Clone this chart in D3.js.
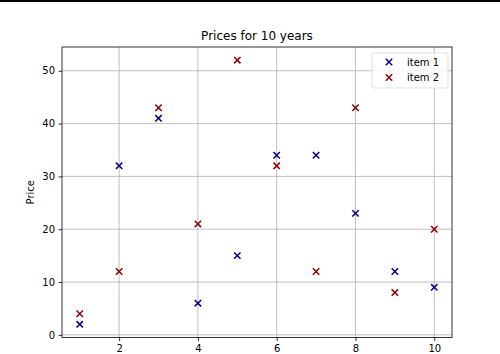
<!DOCTYPE html>
<html>
<head>
<meta charset="utf-8">
<script src="https://cdn.jsdelivr.net/npm/d3@7"></script>
<style>
body { margin: 0; background: #fff; }
svg { display: block; font-family: "DejaVu Sans", sans-serif; }
</style>
</head>
<body>
<svg id="chart" width="500" height="354"></svg>
<script>
// data
var years = [1, 2, 3, 4, 5, 6, 7, 8, 9, 10];
var item1 = [2, 32, 41, 6, 15, 34, 34, 23, 12, 9];
var item2 = [4, 12, 43, 21, 52, 32, 12, 43, 8, 20];
var xTicks = [2, 4, 6, 8, 10];
var yTicks = [0, 10, 20, 30, 40, 50];
var seriesNames = ["item 1", "item 2"];
var seriesColors = ["#00008b", "#8b0000"];

var svg = d3.select("#chart");
// plot area (don't call it "top", that's window.top)
var pLeft = 62, pRight = 452, pTop = 47, pBottom = 337.5;

// black strip across the top of the picture
svg.append("rect").attr("x", 0).attr("y", 0).attr("width", 500).attr("height", 2).attr("fill", "#000");

var x = d3.scaleLinear().domain([0.55, 10.45]).range([pLeft, pRight]);
var y = d3.scaleLinear().domain([-0.5, 54.5]).range([pBottom, pTop]);

// grid
var grid = svg.append("g").attr("stroke", "#b0b0b0").attr("stroke-width", 0.8);
xTicks.forEach(function (t) {
	grid.append("line").attr("x1", x(t)).attr("x2", x(t)).attr("y1", pTop).attr("y2", pBottom);
});
yTicks.forEach(function (t) {
	grid.append("line").attr("x1", pLeft).attr("x2", pRight).attr("y1", y(t)).attr("y2", y(t));
});

// axes
var xAxis = svg.append("g").attr("transform", "translate(0," + pBottom + ")")
	.call(d3.axisBottom(x).tickValues(xTicks).tickSize(3.5).tickPadding(3.5).tickSizeOuter(0));
var yAxis = svg.append("g").attr("transform", "translate(" + pLeft + ",0)")
	.call(d3.axisLeft(y).tickValues(yTicks).tickSize(3.5).tickPadding(3.5).tickSizeOuter(0));
[xAxis, yAxis].forEach(function (a) {
	a.select(".domain").remove();
	a.selectAll("text").attr("font-size", 10).attr("fill", "#000").attr("font-family", "DejaVu Sans");
	a.selectAll("line").attr("stroke", "#000").attr("stroke-width", 0.8);
});

// frame
svg.append("rect").attr("x", pLeft).attr("y", pTop).attr("width", pRight - pLeft).attr("height", pBottom - pTop)
	.attr("fill", "none").attr("stroke", "#000").attr("stroke-width", 0.8);

// markers
function cross(g, cx, cy, color) {
	var s = 3.2;
	g.append("path")
		.attr("d", "M" + (cx - s) + "," + (cy - s) + "L" + (cx + s) + "," + (cy + s) +
			"M" + (cx - s) + "," + (cy + s) + "L" + (cx + s) + "," + (cy - s))
		.attr("stroke", color).attr("stroke-width", 1.5).attr("fill", "none");
}
var marks = svg.append("g");
[item1, item2].forEach(function (vals, i) {
	vals.forEach(function (v, j) {
		cross(marks, x(years[j]), y(v), seriesColors[i]);
	});
});

// title and label
svg.append("text").attr("x", (pLeft + pRight) / 2).attr("y", pTop - 7).attr("text-anchor", "middle")
	.attr("font-size", 12).text("Prices for 10 years");
svg.append("text").attr("transform", "translate(34," + ((pTop + pBottom) / 2) + ") rotate(-90)")
	.attr("text-anchor", "middle").attr("font-size", 10).text("Price");

// legend
var lg = svg.append("g");
lg.append("rect").attr("x", 372).attr("y", 53).attr("width", 76).attr("height", 35).attr("rx", 2)
	.attr("fill", "#fff").attr("fill-opacity", 0.8).attr("stroke", "#d9d9d9").attr("stroke-width", 0.8);
seriesNames.forEach(function (name, i) {
	var ly = 62 + i * 15.5;
	cross(lg, 389, ly, seriesColors[i]);
	lg.append("text").attr("x", 407).attr("y", ly + 3.5).attr("font-size", 10).text(name);
});
</script>
</body>
</html>
